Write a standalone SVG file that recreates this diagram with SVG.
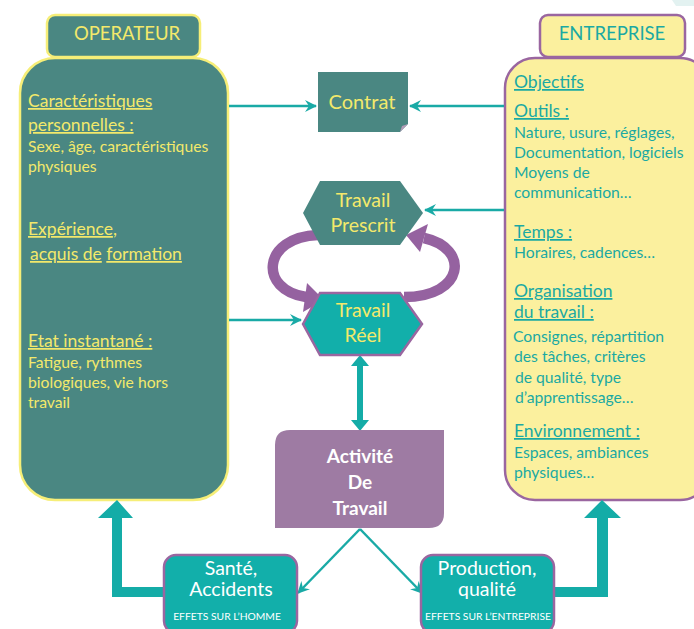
<svg xmlns="http://www.w3.org/2000/svg" width="694" height="629" viewBox="0 0 694 629">
<defs>
<style>
text{font-family:Lato,"Open Sans","Liberation Sans",sans-serif;}
.op{fill:#f3e96b;}
.en{fill:#1aa9a3;}
.h16{font-size:17.5px;}
.b14{font-size:15.7px;}
.u{text-decoration:underline;}
.thin{stroke:#19aaa6;stroke-width:2.5;fill:none;}
.purp{stroke:#9562a0;stroke-width:10.5;fill:none;}
.big{fill:#14aca7;}
</style>
<marker id="ah" viewBox="0 0 12 12" refX="11" refY="6" markerWidth="12" markerHeight="12" markerUnits="userSpaceOnUse" orient="auto">
<path d="M0,0 L12,6 L0,12 L4,6 Z" fill="#19aaa6"/>
</marker>
</defs>
<rect width="694" height="629" fill="#ffffff"/>
<polygon points="672,0 694,0 694,6 676,6" fill="#e3f2f1"/>

<g id="operateur">
<rect x="20" y="58" width="208" height="442" rx="35" fill="#4a8782" stroke="#f6ee78" stroke-width="2.5"/>
<rect x="47" y="15" width="153" height="42" rx="8" fill="#4a8782" stroke="#f6ee78" stroke-width="2.5"/>
<text x="127" y="40" text-anchor="middle" class="op" font-size="18.5">OPERATEUR</text>
<text x="28" y="107" class="op h16 u">Caractéristiques</text>
<text x="28" y="131" class="op h16"><tspan class="u">personnelles  :</tspan></text>
<text x="28" y="152" class="op b14">Sexe, âge, caractéristiques</text>
<text x="28" y="172" class="op b14">physiques</text>
<text x="28" y="235" class="op h16"><tspan class="u">Expérience</tspan>,</text>
<text x="30" y="260" class="op h16"><tspan class="u">acquis de</tspan> <tspan class="u">formation</tspan></text>
<text x="28" y="347" class="op h16 u">Etat instantané  :</text>
<text x="28" y="368" class="op b14">Fatigue, rythmes</text>
<text x="28" y="388" class="op b14">biologiques, vie hors</text>
<text x="28" y="408" class="op b14">travail</text>
</g>

<g id="entreprise">
<rect x="505" y="58" width="205" height="442" rx="30" fill="#fbf09e" stroke="#9a66a0" stroke-width="2.5"/>
<rect x="540" y="15" width="145" height="42" rx="8" fill="#fbf09e" stroke="#9a66a0" stroke-width="2.5"/>
<text x="612" y="40" text-anchor="middle" class="en" font-size="18.5">ENTREPRISE</text>
<text x="514" y="88" class="en h16 u">Objectifs</text>
<text x="514" y="117" class="en h16 u">Outils :</text>
<text x="514" y="138" class="en b14">Nature, usure, réglages,</text>
<text x="514" y="158" class="en b14">Documentation, logiciels</text>
<text x="514" y="178" class="en b14">Moyens de</text>
<text x="514" y="198" class="en b14">communication…</text>
<text x="514" y="238" class="en h16 u">Temps :</text>
<text x="514" y="258" class="en b14">Horaires, cadences…</text>
<text x="514" y="297" class="en h16 u">Organisation</text>
<text x="514" y="318" class="en h16 u">du  travail :</text>
<text x="513" y="342" class="en b14">Consignes, répartition</text>
<text x="514" y="362" class="en b14">des tâches, critères</text>
<text x="515" y="383" class="en b14">de qualité, type</text>
<text x="515" y="403" class="en b14">d’apprentissage…</text>
<text x="514" y="437" class="en h16 u">Environnement  :</text>
<text x="514" y="458" class="en b14">Espaces, ambiances</text>
<text x="514" y="478" class="en b14">physiques…</text>
</g>

<g id="connectors">
<line x1="229" y1="106" x2="316" y2="106" class="thin" marker-end="url(#ah)"/>
<line x1="504" y1="106" x2="410" y2="106" class="thin" marker-end="url(#ah)"/>
<line x1="504" y1="210" x2="425" y2="210" class="thin" marker-end="url(#ah)"/>
<line x1="229" y1="320" x2="301" y2="320" class="thin" marker-end="url(#ah)"/>
<line x1="360" y1="529" x2="298" y2="593" class="thin" marker-end="url(#ah)"/>
<line x1="360" y1="529" x2="422" y2="593" class="thin" marker-end="url(#ah)"/>
<path d="M318 235 C262 237 258 290 306 297" class="purp"/>
<polygon points="307,283 324,300 303,312" fill="#9562a0"/>
<path d="M404 297 C465 297 470 248 424 238" class="purp"/>
<polygon points="428,224 406,235 420,252" fill="#9562a0"/>
<rect x="357" y="364" width="6" height="59" fill="#14aca7"/>
<polygon points="360,355 369,366 351,366" fill="#14aca7"/>
<polygon points="360,431 369,420 351,420" fill="#14aca7"/>
<polygon points="165,587 122,587 122,518 133,518 117,500 98,518 112,518 112,597 165,597" class="big"/>
<polygon points="553,587 597,587 597,518 584,518 602,500 621,518 608,518 608,597 553,597" class="big"/>
</g>

<g id="contrat">
<polygon points="318,72 408,72 408,124 400,132 318,132" fill="#4a8782"/>
<polygon points="408,124 400,132 402,126" fill="#b49bb7"/>
<text x="362" y="109" text-anchor="middle" class="op" font-size="20">Contrat</text>
</g>

<g id="travail-prescrit">
<polygon points="303,213 320,181 400,181 423,213 400,245 320,245" fill="#4a8782"/>
<text x="363" y="207" text-anchor="middle" class="op" font-size="19.5">Travail</text>
<text x="363" y="232" text-anchor="middle" class="op" font-size="19.5">Prescrit</text>
</g>

<g id="travail-reel">
<polygon points="303,324 320,293 400,293 422,324 400,355 320,355" fill="#12afaa" stroke="#9a66a0" stroke-width="2.5"/>
<text x="363" y="317" text-anchor="middle" class="op" font-size="19.5">Travail</text>
<text x="363" y="342" text-anchor="middle" class="op" font-size="19.5">Réel</text>
</g>

<g id="activite">
<path d="M290 430 H444 V513 Q444 528 429 528 H275 V445 Q275 430 290 430 Z" fill="#9e7ba3"/>
<text x="360" y="463" text-anchor="middle" fill="#ffffff" font-size="19" font-weight="bold">Activité</text>
<text x="360" y="489" text-anchor="middle" fill="#ffffff" font-size="19" font-weight="bold">De</text>
<text x="360" y="515" text-anchor="middle" fill="#ffffff" font-size="19" font-weight="bold">Travail</text>
</g>

<g id="sante">
<rect x="164" y="555" width="133" height="78" rx="12" fill="#12afaa" stroke="#9a66a0" stroke-width="2.5"/>
<text x="231" y="575" text-anchor="middle" fill="#ffffff" font-size="19.5">Santé,</text>
<text x="231" y="596" text-anchor="middle" fill="#ffffff" font-size="19.5">Accidents</text>
<text x="227" y="620" text-anchor="middle" fill="#ffffff" font-size="10.3">EFFETS SUR L’HOMME</text>
</g>

<g id="production">
<rect x="421" y="555" width="133" height="78" rx="12" fill="#12afaa" stroke="#9a66a0" stroke-width="2.5"/>
<text x="487" y="575" text-anchor="middle" fill="#ffffff" font-size="19.5">Production,</text>
<text x="487" y="596" text-anchor="middle" fill="#ffffff" font-size="19.5">qualité</text>
<text x="488" y="620" text-anchor="middle" fill="#ffffff" font-size="10.3">EFFETS SUR L’ENTREPRISE</text>
</g>
</svg>
